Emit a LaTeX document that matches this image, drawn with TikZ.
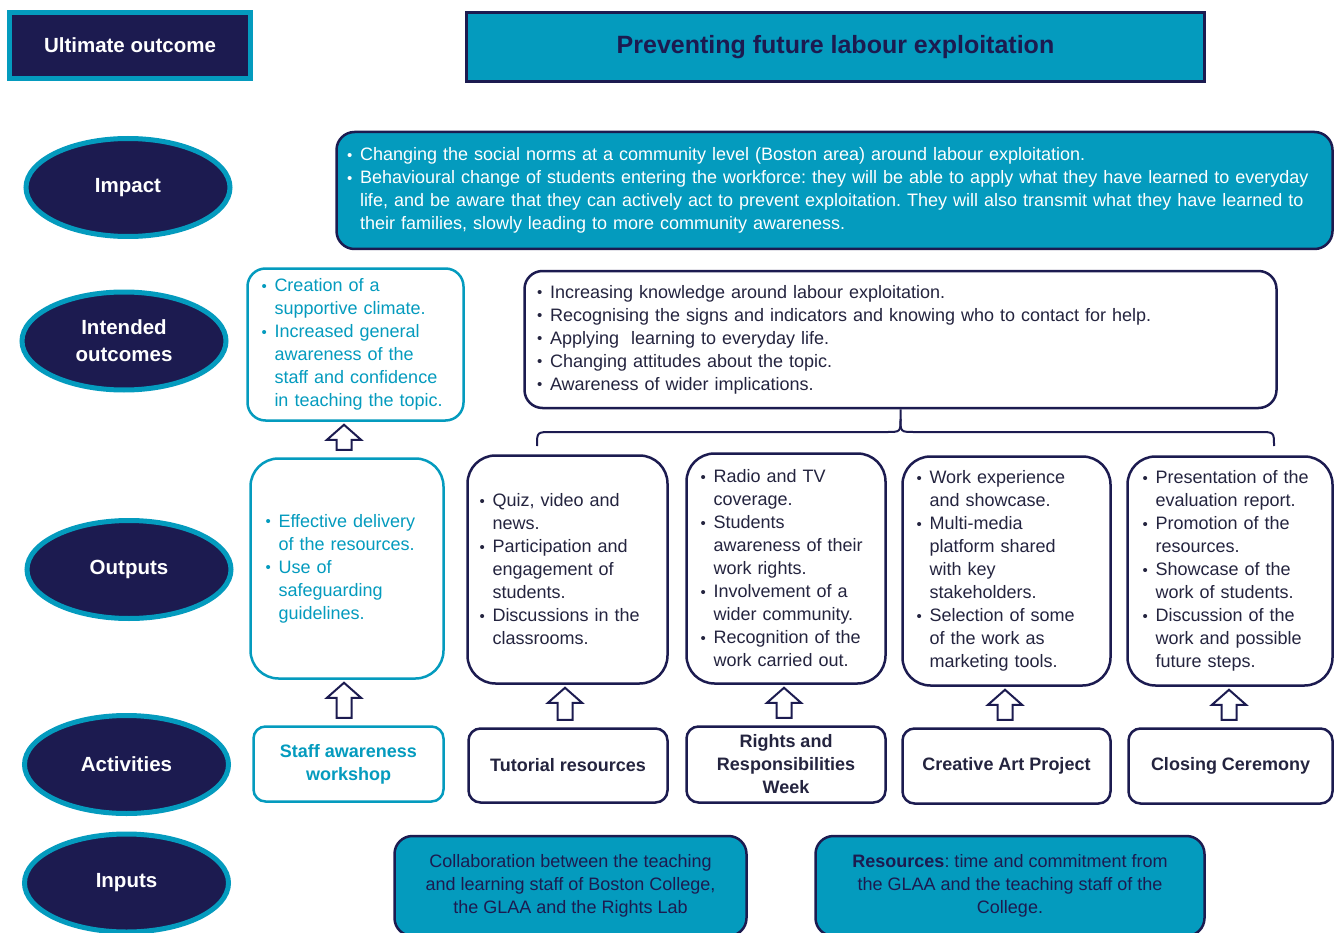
\documentclass[tikz,border=0pt]{standalone}
\usepackage{fontspec}
\setmainfont{Liberation Sans}
\usetikzlibrary{shapes.geometric,calc}
\definecolor{navy}{HTML}{1C1B50}
\definecolor{cteal}{HTML}{049BBE}
\definecolor{ctxt}{HTML}{24243F}
\newcommand\bulx{\makebox[13pt][l]{\fontsize{15}{15}\selectfont\raisebox{0.5pt}{•}}}
\newcommand\indx{\hspace*{13pt}}
\frenchspacing
\begin{document}
\begin{tikzpicture}[x=1pt,y=-1pt,
  ell/.style={ellipse, draw=cteal, fill=navy, line width=5pt, minimum width=204pt, minimum height=98pt, text=white, font=\bfseries\fontsize{20.5}{27}\selectfont, align=center, inner sep=0pt},
  body/.style={font=\fontsize{18}{23}\selectfont\frenchspacing},
  navybox/.style={draw=navy, line width=2.5pt, rounded corners=28pt, fill=white, text=ctxt, align=left, body},
  tealbox/.style={draw=cteal, line width=2.5pt, rounded corners=28pt, fill=white, text=cteal, align=left, body},
  actbox/.style={draw=navy, line width=2.5pt, rounded corners=12pt, fill=white, text=ctxt, font=\bfseries\fontsize{18}{23}\selectfont, align=center},
  inbox/.style={draw=navy, line width=2.5pt, rounded corners=18pt, fill=cteal, text=navy, align=center, body, minimum height=100pt},
  barrow/.style={draw=navy, fill=white, line width=2pt, line join=miter,
    to path={let \p1=(\tikztostart), \p2=(\tikztotarget) in
      ({\x1-7.5pt},{\y1+7.5pt}) -- ({\x1-7.5pt},{\y2-18pt}) -- ({\x1-17pt},{\y2-18pt}) -- (\x1,{\y2-3pt}) -- ({\x1+17pt},{\y2-18pt}) -- ({\x1+7.5pt},{\y2-18pt}) -- ({\x1+7.5pt},{\y1+7.5pt}) -- cycle}},
  brace/.style={draw=navy, line width=2pt}
]
\useasboundingbox (0,0) rectangle (1340,933);

% header
\node[draw=cteal, line width=5pt, fill=navy, text=white, minimum width=241pt, minimum height=66pt, font=\bfseries\fontsize{20.5}{25}\selectfont] (ult) at (130,45.5) {Ultimate outcome};
\node[draw=navy, line width=2.5pt, fill=cteal, text=navy, minimum width=738pt, minimum height=69pt, font=\bfseries\fontsize{25}{30}\selectfont] (title) at (835.5,47) {Preventing future labour exploitation};

% row labels
\node[ell] (eimp) at (128,187.5) {Impact};
\node[ell] (eint) at (124,341) {Intended\\outcomes};
\node[ell] (eout) at (129,569.5) {Outputs};
\node[ell] (eact) at (126.5,764.5) {Activities};
\node[ell] (einp) at (126.5,883) {Inputs};

% impact
\node[draw=navy, line width=2.5pt, rounded corners=18pt, fill=cteal, text=white, body, align=left, minimum width=996pt, minimum height=117pt, text width=975pt, inner xsep=10.5pt] (imp) at (834.5,190.5) {%
\bulx Changing the social norms at a community level (Boston area) around labour exploitation.\\
\bulx Behavioural change of students entering the workforce: they will be able to apply what they have learned to everyday\\
\indx life, and be aware that they can actively act to prevent exploitation. They will also transmit what they have learned to\\
\indx their families, slowly leading to more community awareness.};

% intended outcomes
\node[tealbox, rounded corners=18pt, minimum width=216pt, minimum height=152pt, text width=188pt, inner xsep=14pt] (io1) at (355.5,344.5) {%
\bulx Creation of a\\
\indx supportive climate.\\
\bulx Increased general\\
\indx awareness of the\\
\indx staff and confidence\\
\indx in teaching the topic.};
\node[navybox, rounded corners=18pt, minimum width=752pt, minimum height=137pt, text width=727pt, inner xsep=12.5pt] (io2) at (900.5,339.5) {%
\bulx Increasing knowledge around labour exploitation.\\
\bulx Recognising the signs and indicators and knowing who to contact for help.\\
\bulx Applying~ learning to everyday life.\\
\bulx Changing attitudes about the topic.\\
\bulx Awareness of wider implications.};

% brace
\coordinate (bl) at (537,446);
\coordinate (br) at (1274,446);
\coordinate (bm) at (900.5,419);
\draw[brace] (io2.south) -- (bm) .. controls (900.5,432) .. (886,432) -- (552,432) .. controls (537,432) .. (bl);
\draw[brace] (bm) .. controls (900.5,432) .. (915,432) -- (1259,432) .. controls (1274,432) .. (br);

% outputs
\node[tealbox, minimum width=193pt, minimum height=220pt, text width=163pt, inner xsep=15pt] (o1) at (347,568.5) {%
\bulx Effective delivery\\
\indx of the resources.\\
\bulx Use of\\
\indx safeguarding\\
\indx guidelines.};
\node[navybox, minimum width=200pt, minimum height=228pt, text width=176pt, inner xsep=12pt] (o2) at (567.5,569.5) {%
\bulx Quiz, video and\\
\indx news.\\
\bulx Participation and\\
\indx engagement of\\
\indx students.\\
\bulx Discussions in the\\
\indx classrooms.};
\node[navybox, minimum width=199pt, minimum height=230pt, text width=171pt, inner xsep=14pt] (o3) at (786,568.5) {%
\bulx Radio and TV\\
\indx coverage.\\
\bulx Students\\
\indx awareness of their\\
\indx work rights.\\
\bulx Involvement of a\\
\indx wider community.\\
\bulx Recognition of the\\
\indx work carried out.};
\node[navybox, minimum width=208pt, minimum height=229pt, text width=180pt, inner xsep=14pt] (o4) at (1006.5,571) {%
\bulx Work experience\\
\indx and showcase.\\
\bulx Multi-media\\
\indx platform shared\\
\indx with key\\
\indx stakeholders.\\
\bulx Selection of some\\
\indx of the work as\\
\indx marketing tools.};
\node[navybox, minimum width=205pt, minimum height=229pt, text width=175pt, inner xsep=15pt] (o5) at (1230,571) {%
\bulx Presentation of the\\
\indx evaluation report.\\
\bulx Promotion of the\\
\indx resources.\\
\bulx Showcase of the\\
\indx work of students.\\
\bulx Discussion of the\\
\indx work and possible\\
\indx future steps.};

% activities
\node[actbox, draw=cteal, text=cteal, minimum width=190pt, minimum height=75pt] (a1) at (348.5,764) {Staff awareness\\workshop};
\node[actbox, minimum width=199pt, minimum height=74pt] (a2) at (568,765.5) {Tutorial resources};
\node[actbox, minimum width=199pt, minimum height=76pt] (a3) at (786,764.5) {Rights and\\Responsibilities\\Week};
\node[actbox, minimum width=208pt, minimum height=75pt] (a4) at (1006.5,766) {Creative Art Project};
\node[actbox, minimum width=204pt, minimum height=75pt] (a5) at (1230.5,766) {Closing Ceremony};

% inputs
\node[inbox, minimum width=352pt] (i1) at (570.5,886) {Collaboration between the teaching\\and learning staff of Boston College,\\the GLAA and the Rights Lab};
\node[inbox, minimum width=389pt] (i2) at (1010,886) {\textbf{Resources}: time and commitment from\\the GLAA and the teaching staff of the\\College.};

% block arrows
\draw[barrow] ([xshift=-3pt]o1.north) to ([xshift=-3pt]io1.south);
\draw[barrow] ([xshift=-4.5pt]a1.north) to ([xshift=-4.5pt]o1.south);
\draw[barrow] ([xshift=-3pt]a2.north) to ([xshift=-3pt]o2.south);
\draw[barrow] ([xshift=-2pt]a3.north) to ([xshift=-2pt]o3.south);
\draw[barrow] ([xshift=-1.5pt]a4.north) to ([xshift=-1.5pt]o4.south);
\draw[barrow] ([xshift=-1.5pt]a5.north) to ([xshift=-1.5pt]o5.south);
\end{tikzpicture}
\end{document}
